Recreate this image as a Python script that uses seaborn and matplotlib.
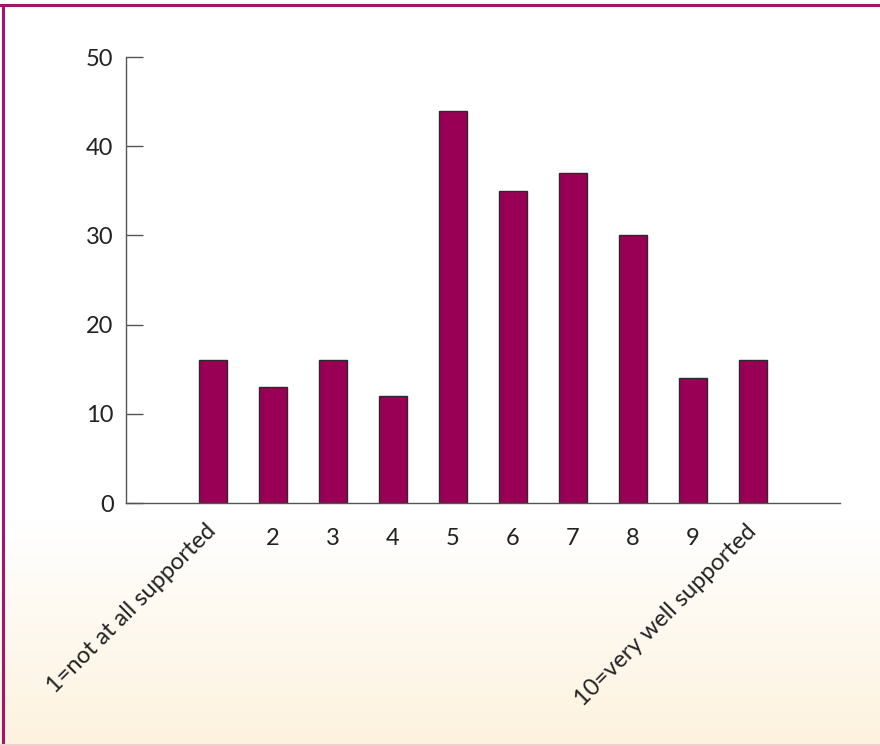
import numpy as np
import pandas as pd
import seaborn as sns
import matplotlib.pyplot as plt
from matplotlib.lines import Line2D

categories = ['1=not at all supported', '2', '3', '4', '5', '6', '7', '8', '9', '10=very well supported']
counts = [16, 13, 16, 12, 44, 35, 37, 30, 14, 16]
yticks = [0, 10, 20, 30, 40, 50]

df = pd.DataFrame({'category': categories, 'count': counts})

sns.set_style('white')
plt.rcParams['font.family'] = ['Lato', 'DejaVu Sans']

fig = plt.figure(figsize=(8.8, 7.46), dpi=100)

# background gradient: white at the top, warm cream at the bottom
bg = fig.add_axes([0, 0, 1, 1], zorder=-10)
rows = np.linspace(0, 1, 400)
white = np.array([1.0, 1.0, 1.0])
cream = np.array([253, 242, 222]) / 255
t = np.clip((rows - 0.70) / 0.30, 0, 1)[:, None]
grad = white * (1 - t) + cream * t
bg.imshow(grad[:, None, :], aspect='auto', extent=[0, 1, 1, 0])
bg.set_axis_off()

ax = fig.add_axes([126 / 880, 1 - 503 / 746, (840 - 126) / 880, (503 - 57) / 746])
ax.patch.set_alpha(0)

sns.barplot(data=df, x='category', y='count', color='#990055', saturation=1,
            width=0.47, edgecolor='#2a2a2a', linewidth=1, ax=ax)

ax.set_xlim(-1.45, 10.45)
ax.set_ylim(0, 50)
ax.set_yticks(yticks)
ax.set_xlabel('')
ax.set_ylabel('')

for s in ['top', 'right']:
    ax.spines[s].set_visible(False)
ax.spines['left'].set_color('#555555')
ax.spines['bottom'].set_color('#555555')
ax.spines['left'].set_linewidth(1)
ax.spines['bottom'].set_linewidth(1)

ax.tick_params(axis='y', direction='in', length=12.5, width=1, color='#555555',
               labelsize=17, pad=9, labelcolor='#222222', left=True)
ax.tick_params(axis='x', length=0, labelsize=17, pad=18, labelcolor='#222222')

labels = ax.get_xticklabels()
for lab in labels:
    if len(lab.get_text()) > 2:
        lab.set_rotation(45)
        lab.set_ha('right')
        lab.set_rotation_mode('anchor')
        lab.set_va('center')

# frame lines
fig.add_artist(Line2D([0, 1], [1 - 5 / 746, 1 - 5 / 746], color='#a3156a', linewidth=2.2))
fig.add_artist(Line2D([3 / 880, 3 / 880], [0, 1 - 5 / 746], color='#a3156a', linewidth=2.2))
fig.add_artist(Line2D([0, 1], [1 / 746, 1 / 746], color='#f2cfcf', linewidth=1.5))

fig.savefig('out.png', dpi=100)
